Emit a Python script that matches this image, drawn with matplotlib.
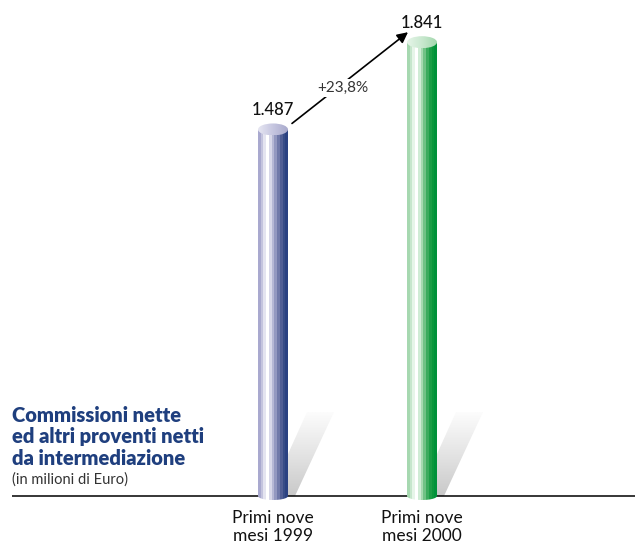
import numpy as np
import matplotlib
matplotlib.use("Agg")
import matplotlib.pyplot as plt
from matplotlib.colors import ListedColormap, LinearSegmentedColormap
from matplotlib.patches import Polygon, Ellipse

plt.rcParams['font.family'] = ['Lato', 'DejaVu Sans']

# --- data -------------------------------------------------------------
categories = ["Primi nove\nmesi 1999", "Primi nove\nmesi 2000"]
values = [1487, 1841]
value_labels = ["1.487", "1.841"]
growth_label = "+23,8%"
title_lines = ["Commissioni nette", "ed altri proventi netti", "da intermediazione"]
subtitle = "(in milioni di Euro)"

# --- styling ----------------------------------------------------------
blue_stripes = ['#a9a9cf', '#c4c4de', '#e4e4f0', '#ffffff', '#d8d8e9', '#b6b8d5',
                '#9398c0', '#7079a9', '#515f95', '#384d87', '#2b4282']
green_stripes = ['#a6d8b0', '#c6e6cc', '#e6f5e8', '#ffffff', '#d0ecd5', '#a6d9b0',
                 '#70c285', '#3bab5d', '#1b9d46', '#0b973c', '#00923a']
blue_cap = ['#e6e6f2', '#c6c6e0', '#a9abcd']
green_cap = ['#e6f5e8', '#c9e8cf', '#a4d8ae']
title_color = '#1f3f7e'

W, H = 635, 544
fig = plt.figure(figsize=(W / 100, H / 100), dpi=100)
ax = fig.add_axes([0, 0, 1, 1])

PX_X = 149.0      # pixels per category step
PX_Y = 0.2465     # pixels per value unit
X0, BASE = 273, 496
xlim = (-X0 / PX_X, (W - X0) / PX_X)
ylim = (-(H - BASE) / PX_Y, BASE / PX_Y)


def px_x(p):
    return p / PX_X


def px_y(p):
    return p / PX_Y


HW = px_x(15)      # half bar width
RB = px_y(4)       # bottom ellipse semi-axis
RT = px_y(6)       # top cap semi-axis


def shadow(x):
    sh_h = px_y(84)
    verts = np.array([[x - px_x(4), 0], [x + px_x(22), 0],
                      [x + px_x(61), sh_h], [x + px_x(34), sh_h]])
    poly = Polygon(verts, closed=True, fc='none', ec='none', transform=ax.transData)
    ax.add_patch(poly)
    cmap = LinearSegmentedColormap.from_list('sh', ['#c9c9c9', '#e4e4e4', '#fcfcfc'])
    im = ax.imshow(np.linspace(0, 1, 60)[:, None], cmap=cmap, origin='lower',
                   extent=[x - px_x(5), x + px_x(62), 0, sh_h], aspect='auto',
                   interpolation='bilinear', zorder=1)
    im.set_clip_path(poly)


def cylinder(x, h, stripes, cap_cols):
    t = np.linspace(np.pi, 2 * np.pi, 50)
    bottom = np.column_stack([x + HW * np.cos(t), RB * np.sin(t)])
    verts = np.vstack([bottom, [[x + HW, h], [x - HW, h]]])
    body = Polygon(verts, closed=True, fc='none', ec='none', transform=ax.transData)
    ax.add_patch(body)
    im = ax.imshow(np.arange(len(stripes))[None, :], cmap=ListedColormap(stripes),
                   extent=[x - HW, x + HW, -RB, h], aspect='auto',
                   interpolation='nearest', zorder=3)
    im.set_clip_path(body)

    cap = Ellipse((x, h), 2 * HW, 2 * RT, fc='none', ec='none', transform=ax.transData)
    ax.add_patch(cap)
    cmap = LinearSegmentedColormap.from_list('cap', cap_cols)
    ci = ax.imshow(np.linspace(0, 1, 40)[None, :], cmap=cmap,
                   extent=[x - HW, x + HW, h - RT, h + RT], aspect='auto',
                   interpolation='bilinear', zorder=4)
    ci.set_clip_path(cap)


for i, (v, stripes, capc) in enumerate(zip(values, [blue_stripes, green_stripes],
                                              [blue_cap, green_cap])):
    shadow(i)
    cylinder(i, v, stripes, capc)
    ax.annotate(value_labels[i], (i, v + RT), xytext=(0, 6), textcoords='offset points',
                ha='center', va='baseline', fontsize=12, fontweight='medium',
                color='#111111')
    ax.text(i, px_y(-14), categories[i], ha='center', va='top', fontsize=12.5,
            linespacing=1.15, color='#111111')

# baseline
ax.plot([px_x(12 - X0), xlim[1]], [0, 0], color='black', lw=1.1, zorder=2,
        solid_capstyle='butt')

# growth arrow
start = (0 + px_x(19), values[0] + px_y(6))
end = (1 - px_x(14), values[1] + px_y(10))
ax.annotate('', xy=end, xytext=start,
            arrowprops=dict(arrowstyle='-|>', color='black', lw=1.2,
                            mutation_scale=16, shrinkA=0, shrinkB=0), zorder=5)
ax.text(px_x(343 - X0), px_y(BASE - 88), growth_label, ha='center', va='center',
        fontsize=11, fontweight='normal', color='#333333', zorder=6,
        bbox=dict(boxstyle='square,pad=0.15', fc='white', ec='none'))

# title block
for line, yb in zip(title_lines, [422, 443, 465]):
    fig.text(12 / W, 1 - yb / H, line, fontsize=14.5, fontweight='heavy',
             color=title_color, va='baseline', ha='left')
fig.text(12 / W, 1 - 484 / H, subtitle, fontsize=10.5, fontweight='normal',
         color='#333333', va='baseline', ha='left')

ax.set_xlim(*xlim)
ax.set_ylim(*ylim)
ax.axis('off')

fig.savefig('out.png', dpi=100, facecolor='white')
